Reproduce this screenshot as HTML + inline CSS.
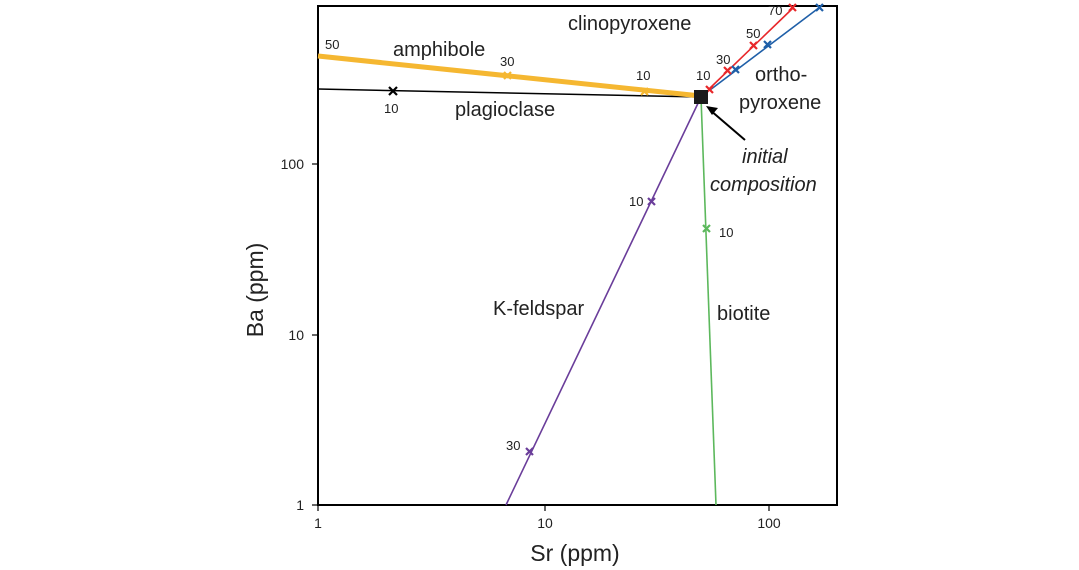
<!DOCTYPE html>
<html><head><style>body{margin:0;background:#fff}svg{display:block}text{font-family:"Liberation Sans",Arial,sans-serif;fill:#222}</style></head>
<body>
<svg width="1079" height="570" viewBox="0 0 1079 570">
<rect x="318" y="6" width="519" height="499" fill="none" stroke="#000" stroke-width="2"/>
<g stroke="#000" stroke-width="1.2">
<line x1="545" y1="505" x2="545" y2="511"/><line x1="769" y1="505" x2="769" y2="511"/><line x1="318" y1="505" x2="318" y2="511"/>
<line x1="312" y1="335" x2="318" y2="335"/><line x1="312" y1="164" x2="318" y2="164"/><line x1="312" y1="505" x2="318" y2="505"/>
</g>
<g font-size="14" text-anchor="middle">
<text x="318" y="528">1</text><text x="545" y="528">10</text><text x="769" y="528">100</text>
</g>
<g font-size="14" text-anchor="end">
<text x="304" y="510">1</text><text x="304" y="340">10</text><text x="304" y="169">100</text>
</g>
<text x="575" y="561" font-size="23" text-anchor="middle">Sr (ppm)</text>
<text transform="translate(263,290) rotate(-90)" font-size="23" text-anchor="middle">Ba (ppm)</text>
<line x1="318" y1="89" x2="701" y2="97" stroke="#000" stroke-width="1.5"/>
<line x1="318" y1="56" x2="701" y2="96" stroke="#f5b731" stroke-width="5"/>
<line x1="701" y1="97" x2="506" y2="505" stroke="#6a3d9a" stroke-width="1.6"/>
<line x1="701" y1="97" x2="716" y2="505" stroke="#5cb85c" stroke-width="1.6"/>
<line x1="709" y1="89" x2="793" y2="8" stroke="#e8272a" stroke-width="1.6"/>
<line x1="710" y1="90" x2="820" y2="7" stroke="#1f5fa8" stroke-width="1.6"/>
<g stroke-width="2.2" fill="none">
<path d="M389,87l8,8m0-8l-8,8" stroke="#000"/>
<path d="M504,72l7,7m0-7l-7,7" stroke="#f5b731"/>
<path d="M641,88l7,7m0-7l-7,7" stroke="#f5b731"/>
<path d="M648,198l7,7m0-7l-7,7" stroke="#6a3d9a"/>
<path d="M526,448l7,7m0-7l-7,7" stroke="#6a3d9a"/>
<path d="M703,225l7,7m0-7l-7,7" stroke="#5cb85c"/>
<path d="M706,86l7,7m0-7l-7,7M724,67l7,7m0-7l-7,7M750,42l7,7m0-7l-7,7M789,4l7,7m0-7l-7,7" stroke="#e8272a"/>
<path d="M732,66l7,7m0-7l-7,7M764,41l7,7m0-7l-7,7M816,4l7,7m0-7l-7,7" stroke="#1f5fa8"/>
</g>
<rect x="694" y="90" width="14" height="14" fill="#1a1a1a"/>
<line x1="745" y1="140" x2="710" y2="110" stroke="#000" stroke-width="2"/>
<path d="M706,106l12,2l-6,7z" fill="#000"/>
<g font-size="13">
<text x="325" y="49">50</text><text x="500" y="66">30</text><text x="636" y="80">10</text>
<text x="384" y="113">10</text><text x="696" y="80">10</text><text x="716" y="64">30</text>
<text x="746" y="38">50</text><text x="768" y="15">70</text>
<text x="629" y="206">10</text><text x="506" y="450">30</text><text x="719" y="237">10</text>
</g>
<g font-size="20">
<text x="393" y="56">amphibole</text><text x="455" y="116">plagioclase</text>
<text x="568" y="30">clinopyroxene</text><text x="755" y="81">ortho-</text><text x="739" y="109">pyroxene</text>
<text x="493" y="315">K-feldspar</text><text x="717" y="320">biotite</text>
<text x="742" y="163" font-style="italic">initial</text><text x="710" y="191" font-style="italic">composition</text>
</g>
</svg>
</body></html>
